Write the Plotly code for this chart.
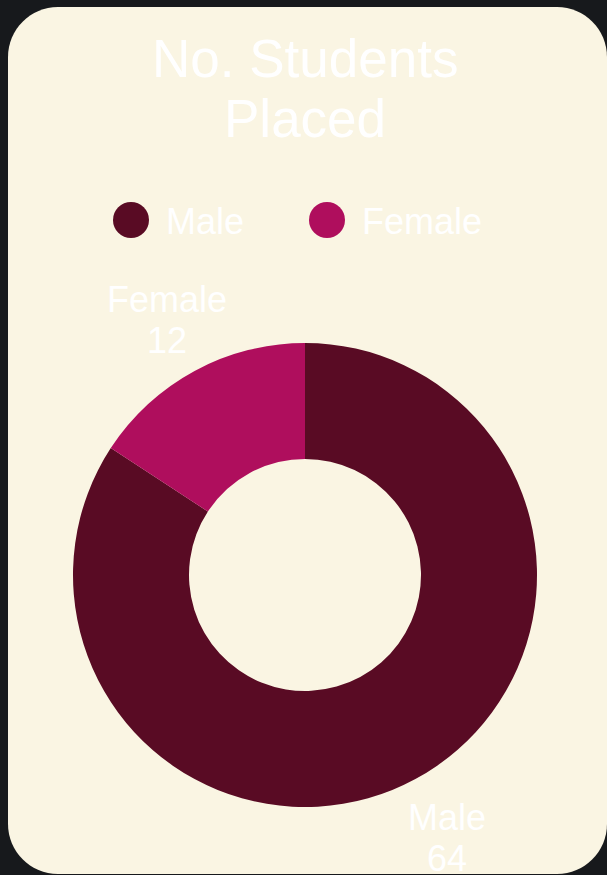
import math
import plotly.graph_objects as go

# Placement counts by gender
categories = ["Male", "Female"]
placed = [64, 12]
slice_colors = ["#590b24", "#af0e5d"]
title_lines = ["No. Students", "Placed"]

W, H = 607, 875
FONT = "Arial, 'Liberation Sans', sans-serif"
CARD = "#faf5e3"
PAGE = "#17191c"

# card geometry (pixel space)
x0, y0, x1, y1, r = 8, 7, 607, 874, 50
k = 0.5523 * r
card_path = (
    f"M {x0 + r},{y0} L {x1 - r},{y0} "
    f"C {x1 - r + k},{y0} {x1},{y0 + r - k} {x1},{y0 + r} "
    f"L {x1},{y1 - r} "
    f"C {x1},{y1 - r + k} {x1 - r + k},{y1} {x1 - r},{y1} "
    f"L {x0 + r},{y1} "
    f"C {x0 + r - k},{y1} {x0},{y1 - r + k} {x0},{y1 - r} "
    f"L {x0},{y0 + r} "
    f"C {x0},{y0 + r - k} {x0 + r - k},{y0} {x0 + r},{y0} Z"
)

# donut box: centre (305, 575), outer radius 232
cx, cy, R = 305, 575, 232
LABEL_R = 295      # radius of outside label centres
LINE_GAP = 41      # spacing between the two label lines
TEXT_DROP = 4      # baseline correction for middle-anchored text

fig = go.Figure()

fig.add_trace(go.Pie(
    labels=categories,
    values=placed,
    hole=0.5,
    sort=False,
    direction="clockwise",
    rotation=0,
    marker=dict(colors=slice_colors, line=dict(width=0)),
    textinfo="none",
    domain=dict(x=[(cx - R) / W, (cx + R) / W],
                y=[1 - (cy + R) / H, 1 - (cy - R) / H]),
    showlegend=False,
))

# legend row with round swatches
legend_x = [131, 327]
fig.add_trace(go.Scatter(
    x=legend_x, y=[220, 220],
    mode="markers",
    marker=dict(size=36, color=slice_colors),
    hoverinfo="skip",
    showlegend=False,
    cliponaxis=False,
))

annotations = []
for lx, name in zip(legend_x, categories):
    annotations.append(dict(
        x=lx + 33, y=221, xref="x", yref="y", text=name, showarrow=False,
        xanchor="left", yanchor="middle",
        font=dict(family=FONT, size=36, color="white")))

# title, one annotation per line
for i, line in enumerate(title_lines):
    annotations.append(dict(
        x=305, y=58 + 60.6 * i, xref="x", yref="y", text=line, showarrow=False,
        xanchor="center", yanchor="middle",
        font=dict(family=FONT, size=53, color="white")))

# outside slice labels placed along each slice's mid-angle
total = sum(placed)
start = 0.0
for name, v in zip(categories, placed):
    mid = start + v / total * 360 / 2
    start += v / total * 360
    a = math.radians(mid)
    lx = cx + 2 + LABEL_R * math.sin(a)
    ly = cy - LABEL_R * math.cos(a) + TEXT_DROP
    for j, txt in enumerate([name, str(v)]):
        annotations.append(dict(
            x=lx, y=ly + (j - 0.5) * LINE_GAP, xref="x", yref="y",
            text=txt, showarrow=False, xanchor="center", yanchor="middle",
            font=dict(family=FONT, size=36, color="white")))

fig.update_layout(
    width=W, height=H,
    margin=dict(l=0, r=0, t=0, b=0),
    paper_bgcolor=PAGE,
    plot_bgcolor="rgba(0,0,0,0)",
    showlegend=False,
    xaxis=dict(range=[0, W], visible=False, domain=[0, 1], fixedrange=True),
    yaxis=dict(range=[H, 0], visible=False, domain=[0, 1], fixedrange=True),
    shapes=[dict(type="path", xref="x", yref="y", path=card_path,
                 fillcolor=CARD, line=dict(width=0), layer="below")],
    annotations=annotations,
)

fig.write_html("out.html")
